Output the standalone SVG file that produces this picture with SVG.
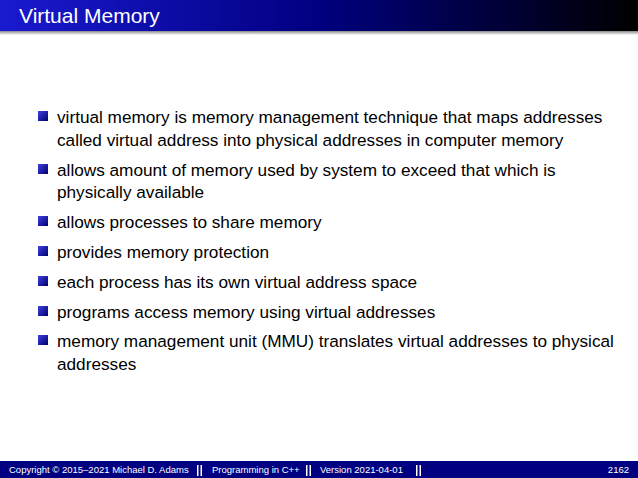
<svg xmlns="http://www.w3.org/2000/svg" width="638" height="478" viewBox="0 0 638 478">
<defs>
<linearGradient id="tg" x1="0" x2="1" y1="0" y2="0"><stop offset="0" stop-color="#1a1ad0"/><stop offset="0.5" stop-color="#000080"/><stop offset="1" stop-color="#000000"/></linearGradient>
<linearGradient id="sh" x1="0" x2="0" y1="0" y2="1"><stop offset="0" stop-color="#888"/><stop offset="1" stop-color="#fff"/></linearGradient>
<linearGradient id="bl" x1="0" x2="1" y1="0" y2="1"><stop offset="0" stop-color="#4040e0"/><stop offset="1" stop-color="#000070"/></linearGradient>
</defs>
<style>
.t{font-family:"Liberation Sans",Arial,sans-serif;font-size:17.2px;fill:#000}
.f{font-family:"Liberation Sans",Arial,sans-serif;font-size:9.5px;fill:#fff}
</style>
<rect width="638" height="478" fill="#fff"/>
<g id="title"><rect width="638" height="31" fill="url(#tg)"/><rect y="31" width="638" height="4" fill="url(#sh)"/>
<text x="19" y="23" font-family="Liberation Sans,Arial,sans-serif" font-size="21" fill="#fff">Virtual Memory</text></g>
<g id="bullets">
<rect x="38" y="111" width="10" height="10" fill="url(#bl)"/>
<text class="t" x="57" y="123">virtual memory is memory management technique that maps addresses</text>
<text class="t" x="57" y="146">called virtual address into physical addresses in computer memory</text>
<rect x="38" y="164" width="10" height="10" fill="url(#bl)"/>
<text class="t" x="57" y="176">allows amount of memory used by system to exceed that which is</text>
<text class="t" x="57" y="198">physically available</text>
<rect x="38" y="216" width="10" height="10" fill="url(#bl)"/>
<text class="t" x="57" y="228">allows processes to share memory</text>
<rect x="38" y="246" width="10" height="10" fill="url(#bl)"/>
<text class="t" x="57" y="258">provides memory protection</text>
<rect x="38" y="276" width="10" height="10" fill="url(#bl)"/>
<text class="t" x="57" y="288">each process has its own virtual address space</text>
<rect x="38" y="306" width="10" height="10" fill="url(#bl)"/>
<text class="t" x="57" y="318">programs access memory using virtual addresses</text>
<rect x="38" y="335" width="10" height="10" fill="url(#bl)"/>
<text class="t" x="57" y="347">memory management unit (MMU) translates virtual addresses to physical</text>
<text class="t" x="57" y="370">addresses</text>
</g>
<g id="footer"><rect y="461" width="638" height="17" fill="#000080"/>
<text class="f" x="9" y="473">Copyright © 2015–2021 Michael D. Adams</text>
<text class="f" x="212" y="473">Programming in C++</text>
<text class="f" x="320" y="473">Version 2021-04-01</text>
<text class="f" x="629" y="473" text-anchor="end">2162</text>
<g fill="#fff"><rect x="197" y="465" width="1.5" height="11"/><rect x="200.5" y="465" width="1.5" height="11"/>
<rect x="306" y="465" width="1.5" height="11"/><rect x="309.5" y="465" width="1.5" height="11"/>
<rect x="416" y="465" width="1.5" height="11"/><rect x="419.5" y="465" width="1.5" height="11"/></g></g>
</svg>
